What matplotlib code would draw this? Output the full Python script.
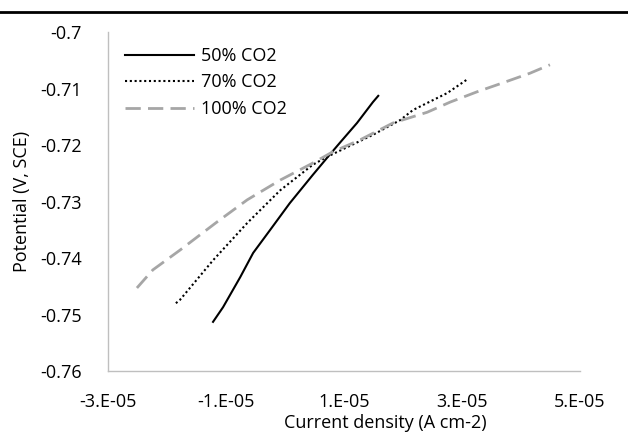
import matplotlib.pyplot as plt
from matplotlib.lines import Line2D

plt.rcParams['font.family'] = ['Open Sans', 'DejaVu Sans']

# 50% CO2
x50 = [-1.22e-5, -1.05e-5, -0.76e-5, -0.54e-5, -0.25e-5, 0.08e-5, 0.47e-5, 0.71e-5,
       0.93e-5, 1.22e-5, 1.49e-5, 1.58e-5]
y50 = [-0.7513, -0.7487, -0.7434, -0.7391, -0.7350, -0.7303, -0.7253, -0.7223,
       -0.7196, -0.7161, -0.7124, -0.7113]
# 70% CO2
x70 = [-1.85e-5, -1.78e-5, -1.22e-5, -0.64e-5, -0.08e-5, 0.47e-5, 0.71e-5, 1.05e-5,
       1.49e-5, 1.95e-5, 2.17e-5, 2.75e-5, 3.10e-5]
y70 = [-0.7480, -0.7474, -0.7404, -0.7338, -0.7280, -0.7235, -0.7221, -0.7204,
       -0.7182, -0.7156, -0.7138, -0.7108, -0.7083]
# 100% CO2
x100 = [-2.51e-5, -2.24e-5, -1.78e-5, -1.44e-5, -1.15e-5, -0.64e-5, -0.08e-5, 0.47e-5,
        0.81e-5, 1.27e-5, 1.83e-5, 2.41e-5, 2.80e-5, 3.25e-5, 3.69e-5, 4.15e-5, 4.49e-5]
y100 = [-0.7453, -0.7421, -0.7386, -0.7359, -0.7336, -0.7297, -0.7262, -0.7232,
        -0.7212, -0.7191, -0.7161, -0.7142, -0.7124, -0.7106, -0.7090, -0.7073, -0.7058]

xticks = [-3e-5, -1e-5, 1e-5, 3e-5, 5e-5]
xtick_labels = ['-3.E-05', '-1.E-05', '1.E-05', '3.E-05', '5.E-05']
yticks = [-0.76, -0.75, -0.74, -0.73, -0.72, -0.71, -0.7]
ytick_labels = ['-0.76', '-0.75', '-0.74', '-0.73', '-0.72', '-0.71', '-0.7']

fig = plt.figure(figsize=(6.28, 4.41), dpi=100)
ax = fig.add_axes([0.172, 0.1587, 0.7516, 0.7687])

ax.plot(x50, y50, color='black', lw=1.5, label='50% CO2')
ax.plot(x70, y70, color='black', lw=1.5, ls=(0, (1, 1.3)), label='70% CO2')
ax.plot(x100, y100, color='#a6a6a6', lw=2, ls=(0, (5.5, 2.6)), label='100% CO2')

ax.set_xlim(-3e-5, 5e-5)
ax.set_ylim(-0.76, -0.7)
ax.set_xticks(xticks)
ax.set_xticklabels(xtick_labels)
ax.set_yticks(yticks)
ax.set_yticklabels(ytick_labels)
ax.tick_params(length=0, labelsize=13)
ax.tick_params(axis='x', pad=16)
ax.tick_params(axis='y', pad=19)

for s in ['top', 'right']:
    ax.spines[s].set_visible(False)
for s in ['left', 'bottom']:
    ax.spines[s].set_color('#bfbfbf')
    ax.spines[s].set_linewidth(1)

ax.set_xlabel('Current density (A cm-2)', fontsize=13)
ax.xaxis.set_label_coords(0.587, -0.128)
ax.set_ylabel('Potential (V, SCE)', fontsize=13)
ax.yaxis.set_label_coords(-0.163, 0.5)

ax.legend(loc='upper left', frameon=False, fontsize=13, handlelength=3.8,
          handletextpad=0.4, labelspacing=0.47, borderaxespad=0, borderpad=0,
          bbox_to_anchor=(0.036, 0.956))

fig.add_artist(Line2D([0, 1], [0.973, 0.973], color='black', lw=2,
                      transform=fig.transFigure))

plt.savefig('out.png', dpi=100)
